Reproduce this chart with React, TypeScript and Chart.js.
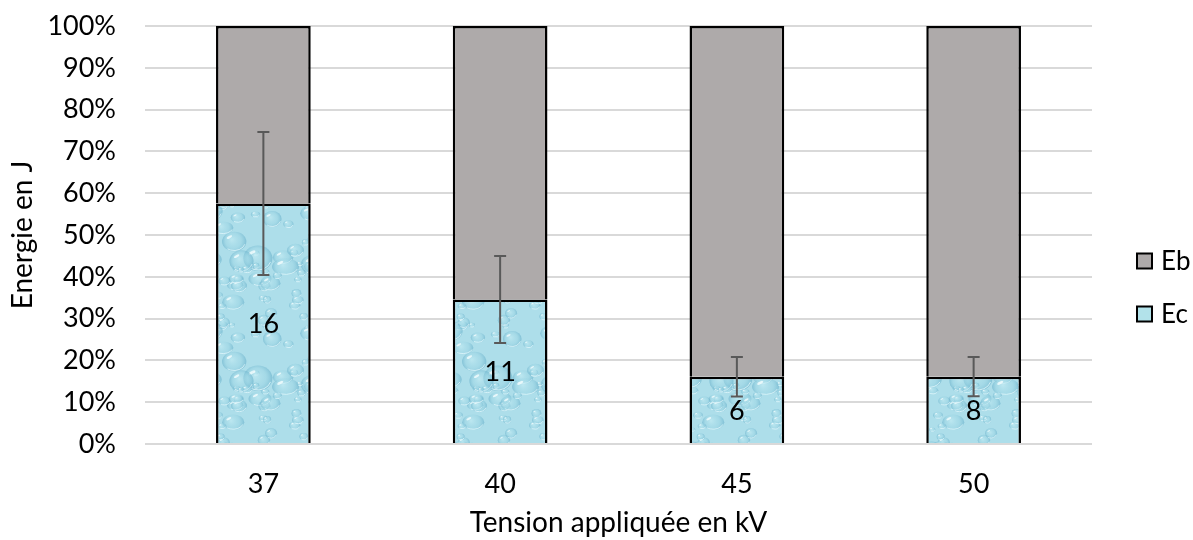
import React, { useEffect, useRef } from "react";
import { Chart, registerables } from "chart.js";

Chart.register(...registerables);

// ---- data ----
const categories = ["37", "40", "45", "50"];
const ecValues = [16, 11, 6, 8]; // Energie Ec (J)
const ebValues = [11.8, 20.8, 31.3, 41.7]; // Energie Eb (J)
const ecErrorPct = [17.1, 10.4, 4.7, 4.7]; // error bar half-length (percentage points)
const seriesNames = ["Ec", "Eb"];
const yTitle = "Energie en J";
const xTitle = "Tension appliquée en kV";

const ecPct = ecValues.map((v, i) => (v / (v + ebValues[i])) * 100);
const ebPct = ebValues.map((v, i) => (v / (v + ecValues[i])) * 100);

const FONT = "Lato";
const GRAY = "#AEAAAA";
const BLUE = "#B2E2EA";

function makeWaterPattern(): CanvasPattern | string {
  const size = 120;
  const c = document.createElement("canvas");
  c.width = size;
  c.height = size;
  const g = c.getContext("2d");
  if (!g) return BLUE;
  g.fillStyle = "#addeea";
  g.fillRect(0, 0, size, size);
  let seed = 24681;
  const rnd = () => {
    seed = (seed * 16807) % 2147483647;
    return seed / 2147483647;
  };
  const drop = (x: number, y: number, r: number, squash: number) => {
    const ry = r * squash;
    const grad = g.createRadialGradient(x - r * 0.2, y - ry * 0.2, r * 0.05, x, y, r);
    grad.addColorStop(0, "rgba(200,238,245,0.5)");
    grad.addColorStop(0.6, "rgba(150,210,226,0.35)");
    grad.addColorStop(1, "rgba(95,170,198,0.55)");
    g.fillStyle = grad;
    g.beginPath();
    g.ellipse(x, y, r, ry, 0, 0, Math.PI * 2);
    g.fill();
    // refraction rim (bottom-right)
    g.strokeStyle = "rgba(235,252,255,0.7)";
    g.lineWidth = 1;
    g.beginPath();
    g.ellipse(x, y, r * 0.92, ry * 0.92, 0, 0.1 * Math.PI, 0.7 * Math.PI);
    g.stroke();
    // highlight (top-left)
    g.fillStyle = "rgba(250,255,255,0.75)";
    g.beginPath();
    g.ellipse(x - r * 0.4, y - ry * 0.45, Math.max(1, r * 0.25), Math.max(0.6, r * 0.1), -0.5, 0, Math.PI * 2);
    g.fill();
  };
  for (let i = 0; i < 65; i++) {
    const x = rnd() * size;
    const y = rnd() * size;
    const r = 3 + rnd() * rnd() * 15;
    const squash = 0.6 + rnd() * 0.3;
    for (const dx of [-size, 0, size]) {
      for (const dy of [-size, 0, size]) {
        drop(x + dx, y + dy, r, squash);
      }
    }
  }
  const p = g.createPattern(c, "repeat");
  return p || BLUE;
}

const overlayPlugin = {
  id: "overlay",
  afterDatasetsDraw(chart: any) {
    const ctx = chart.ctx;
    const meta = chart.getDatasetMeta(0);
    const y = chart.scales.y;
    ctx.save();
    // error bars
    ctx.strokeStyle = "#595959";
    ctx.lineWidth = 2;
    meta.data.forEach((bar: any, i: number) => {
      const x = bar.x;
      const yTop = y.getPixelForValue(ecPct[i] + ecErrorPct[i]);
      const yBot = y.getPixelForValue(ecPct[i] - ecErrorPct[i]);
      ctx.beginPath();
      ctx.moveTo(x, yTop);
      ctx.lineTo(x, yBot);
      ctx.moveTo(x - 6, yTop);
      ctx.lineTo(x + 6, yTop);
      ctx.moveTo(x - 6, yBot);
      ctx.lineTo(x + 6, yBot);
      ctx.stroke();
    });
    // data labels
    ctx.fillStyle = "#000";
    ctx.font = `27px ${FONT}`;
    ctx.textAlign = "center";
    ctx.textBaseline = "middle";
    meta.data.forEach((bar: any, i: number) => {
      const yMid = (bar.y + bar.base) / 2;
      ctx.fillText(String(ecValues[i]), bar.x, yMid + 1);
    });
    // legend
    const items = [
      { label: seriesNames[1], color: GRAY, y: 261 },
      { label: seriesNames[0], color: BLUE, y: 314 },
    ];
    ctx.font = `26px ${FONT}`;
    ctx.textAlign = "left";
    items.forEach((it) => {
      ctx.fillStyle = it.color;
      ctx.fillRect(1137, it.y - 7.5, 15, 15);
      ctx.strokeStyle = "#000";
      ctx.lineWidth = 2;
      ctx.strokeRect(1137, it.y - 7.5, 15, 15);
      ctx.fillStyle = "#000";
      ctx.fillText(it.label, 1161, it.y + 1);
    });
    ctx.restore();
  },
};

export default function App() {
  const canvasRef = useRef<HTMLCanvasElement | null>(null);

  useEffect(() => {
    if (!canvasRef.current) return;
    const pattern = makeWaterPattern();
    const chart = new Chart(canvasRef.current, {
      type: "bar",
      data: {
        labels: categories,
        datasets: [
          {
            label: seriesNames[0],
            data: ecPct,
            backgroundColor: pattern as any,
            borderColor: "#000",
            borderWidth: 2.5,
            barPercentage: 0.4,
            categoryPercentage: 1,
          },
          {
            label: seriesNames[1],
            data: ebPct,
            backgroundColor: GRAY,
            borderColor: "#000",
            borderWidth: 2.5,
            barPercentage: 0.4,
            categoryPercentage: 1,
          },
        ],
      },
      options: {
        animation: false,
        responsive: false,
        maintainAspectRatio: false,
        layout: { padding: { top: 26, right: 101, left: 0, bottom: 0 } },
        plugins: {
          legend: { display: false },
          tooltip: { enabled: false },
        },
        scales: {
          x: {
            stacked: true,
            grid: { display: false, drawTicks: false },
            border: { display: false },
            ticks: { color: "#000", font: { family: FONT, size: 27 }, padding: 24 },
            title: {
              display: true,
              text: xTitle,
              color: "#000",
              font: { family: FONT, size: 28 },
              padding: { top: 0, bottom: 0 },
            },
            afterFit: (s: any) => {
              s.height = 96;
              s.paddingLeft = 0;
              s.paddingRight = 0;
            },
          },
          y: {
            stacked: true,
            min: 0,
            max: 100,
            ticks: {
              stepSize: 10,
              color: "#000",
              font: { family: FONT, size: 27 },
              padding: 29,
              callback: (v: any) => `${v}%`,
            },
            grid: { color: "#D9D9D9", lineWidth: 2, drawTicks: false },
            border: { display: false },
            title: {
              display: true,
              text: yTitle,
              color: "#000",
              font: { family: FONT, size: 28 },
              padding: { top: 6, bottom: 0 },
            },
            afterFit: (s: any) => {
              s.width = 145;
              s.paddingTop = 0;
              s.paddingBottom = 0;
            },
          },
        },
      },
      plugins: [overlayPlugin],
    });
    return () => chart.destroy();
  }, []);

  return (
    <div style={{ position: "fixed", left: 0, top: 0, width: 1193, height: 540, background: "#fff" }}>
      <canvas ref={canvasRef} width={1193} height={540} style={{ width: 1193, height: 540 }} />
    </div>
  );
}
